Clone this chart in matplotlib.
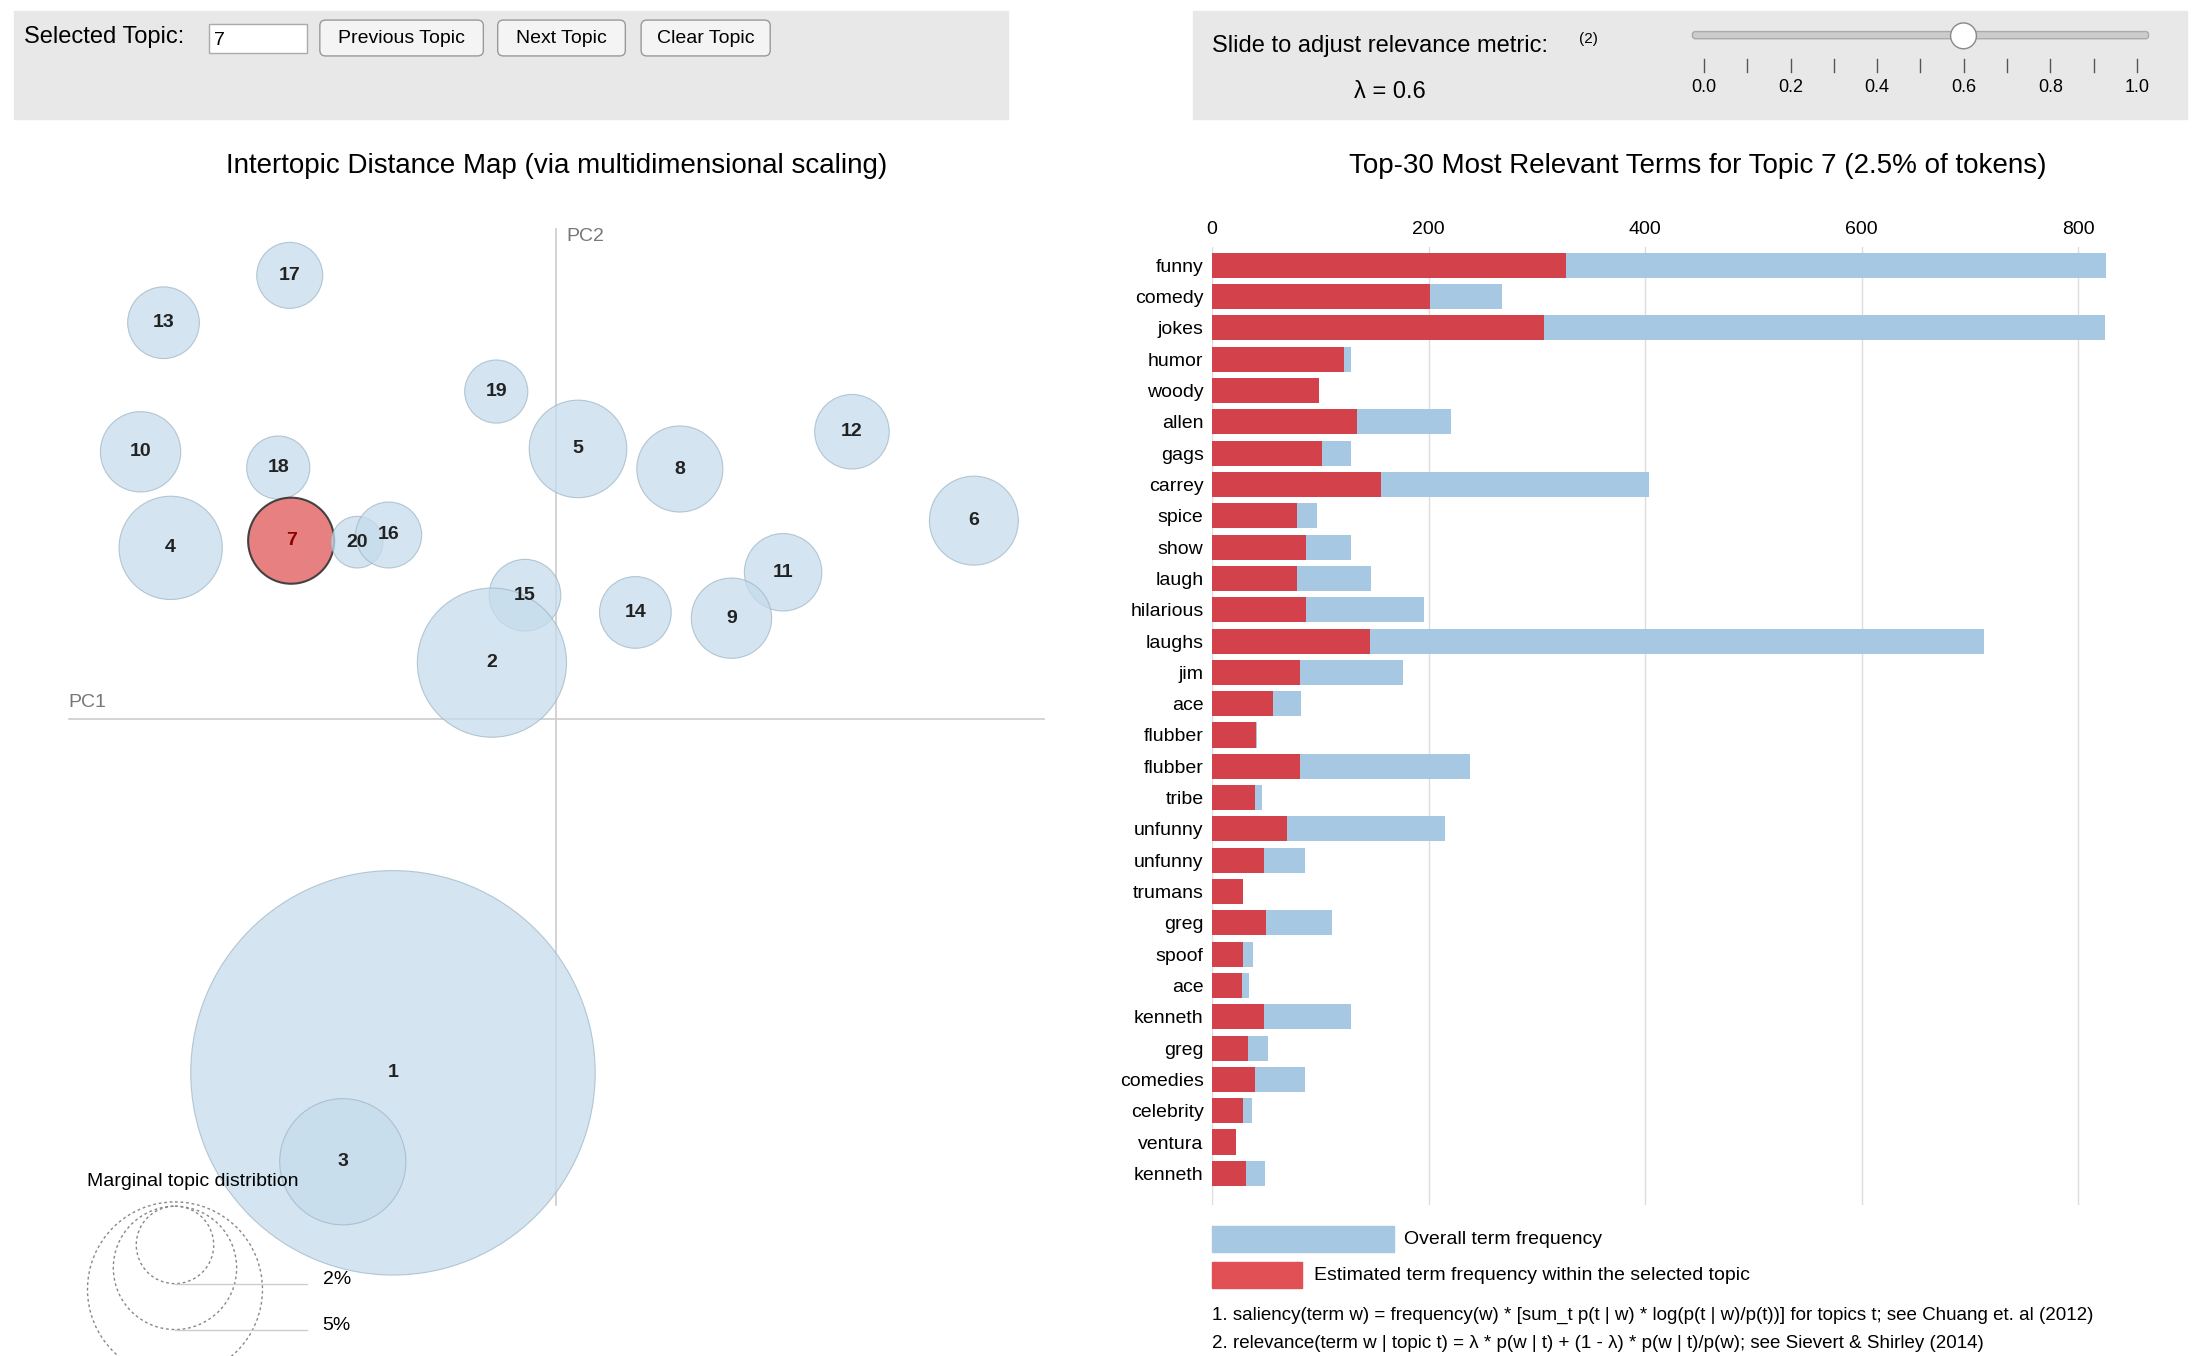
import matplotlib
matplotlib.use("Agg")
import matplotlib.pyplot as plt
from matplotlib.patches import Circle, Rectangle, FancyBboxPatch

plt.rcParams['font.family'] = ['Liberation Sans', 'DejaVu Sans']

# ---- data ----
topic_ids = [17, 13, 19, 10, 18, 5, 8, 12, 6, 4, 7, 20, 16, 15, 14, 11, 9, 2, 1, 3]
topic_x = [202, 114, 346, 98, 194, 403, 474, 594, 679, 119, 203, 249, 271, 366, 443, 546, 510, 343, 274, 239]
topic_y = [192, 225, 273, 315, 326, 313, 327, 301, 363, 382, 377, 378, 373, 415, 427, 399, 431, 462, 748, 810]
topic_r = [23, 25, 22, 28, 22, 34, 30, 26, 31, 36, 30, 18, 23, 25, 25, 27, 28, 52, 141, 44]
selected_topic = 7

terms = ["funny", "comedy", "jokes", "humor", "woody", "allen", "gags", "carrey", "spice", "show",
         "laugh", "hilarious", "laughs", "jim", "ace", "flubber", "flubber", "tribe", "unfunny", "unfunny",
         "trumans", "greg", "spoof", "ace", "kenneth", "greg", "comedies", "celebrity", "ventura", "kenneth"]
overall = [826, 268, 825, 128, 99, 221, 128, 404, 97, 128, 147, 196, 713, 176, 82, 42, 238, 46, 215, 86,
           29, 111, 38, 34, 128, 52, 86, 37, 22, 49]
within = [327, 201, 307, 122, 99, 134, 102, 156, 79, 87, 79, 87, 146, 81, 56, 41, 81, 40, 69, 48,
          29, 50, 29, 28, 48, 33, 40, 29, 22, 31]
xticks = [0, 200, 400, 600, 800]
legend_sizes = ["2%", "5%", "10%"]
legend_r = [27, 43, 61]

BLUE = "#a6c8e2"
CIRC = "#c6dceb"
RED = "#d3414b"
W, H = 2198, 1356
DW = 1532.5
s = W / DW
HD = H / s

fig = plt.figure(figsize=(W / 100, H / 100), dpi=100)
bg = fig.add_axes([0, 0, 1, 1])
bg.set_xlim(0, DW)
bg.set_ylim(HD, 0)
bg.axis('off')

# top panels
for x0 in (10, 832):
    bg.add_patch(Rectangle((x0, 8), 693, 75, color="#e8e8e8", zorder=0))
bg.text(17, 26, "Selected Topic:", fontsize=17, va='center')
bg.add_patch(Rectangle((146, 17), 68, 20, facecolor='white', edgecolor='#aaaaaa'))
bg.text(149, 28, str(selected_topic), fontsize=14, va='center')
for bx, bw, lab in [(223, 114, "Previous Topic"), (347, 89, "Next Topic"), (447, 90, "Clear Topic")]:
    bg.add_patch(FancyBboxPatch((bx, 14), bw, 25, boxstyle="round,pad=0,rounding_size=4",
                                facecolor='#f4f4f4', edgecolor='#999999'))
    bg.text(bx + bw / 2, 27, lab, fontsize=14, ha='center', va='center')
bg.text(845, 32, "Slide to adjust relevance metric:", fontsize=17, va='center')
bg.text(1101, 27, "(2)", fontsize=11, va='center')
bg.text(969, 64, "λ = 0.6", fontsize=17, va='center', ha='center')
bg.add_patch(FancyBboxPatch((1180, 22), 318, 5, boxstyle="round,pad=0,rounding_size=2",
                            facecolor='#cccccc', edgecolor='#aaaaaa'))
for i in range(11):
    tx = 1188 + i * 30.2
    bg.plot([tx, tx], [41, 50], color='#555555', lw=1)
for i, v in enumerate(["0.0", "0.2", "0.4", "0.6", "0.8", "1.0"]):
    bg.text(1188 + i * 60.4, 61, v, fontsize=13, ha='center', va='center')
bg.add_patch(Circle((1369, 25), 9, facecolor='white', edgecolor='#888888', zorder=5))

# left map
bg.text(388, 116, "Intertopic Distance Map (via multidimensional scaling)", fontsize=20, ha='center', va='center')
bg.plot([388, 388], [160, 840], color='#cccccc', lw=1.2, zorder=1)
bg.plot([48, 728], [501, 501], color='#cccccc', lw=1.2, zorder=1)
bg.text(395, 165, "PC2", fontsize=14, color='#777777', va='center')
bg.text(48, 490, "PC1", fontsize=14, color='#777777', va='center')
for tid, x, y, r in zip(topic_ids, topic_x, topic_y, topic_r):
    sel = tid == selected_topic
    bg.add_patch(Circle((x, y), r, facecolor=("#e57373" if sel else CIRC),
                        edgecolor=("#333333" if sel else "#9fb7c8"), alpha=0.75 if not sel else 0.9,
                        lw=1.5 if sel else 0.8, zorder=2))
    bg.text(x, y, str(tid), fontsize=14, fontweight='bold', ha='center', va='center',
            color=("#8b0000" if sel else "#222222"), zorder=6)

bg.text(61, 824, "Marginal topic distribtion", fontsize=14, va='center')
bottoms = [895, 927, 960]
for lab, r, b in zip(legend_sizes, legend_r, bottoms):
    bg.add_patch(Circle((122, b - r), r, fill=False, edgecolor='#888888', ls=(0, (2, 2)), lw=1))
    bg.plot([122, 214], [b, b], color='#cccccc', lw=1)
    bg.text(225, b - 3, lab, fontsize=14, va='center')

# right bar chart
bg.text(1184, 116, "Top-30 Most Relevant Terms for Topic 7 (2.5% of tokens)", fontsize=20, ha='center', va='center')
x0p, x1p = 845, 1480
pxu = (1449 - 845) / 800.0
top_p, bot_p = 172, 840
ax = fig.add_axes([x0p * s / W, 1 - bot_p * s / H, (x1p - x0p) * s / W, (bot_p - top_p) * s / H])
ax.set_xlim(0, (x1p - x0p) / pxu)
row = 21.83
ax.set_ylim((bot_p - 185) / row, (top_p - 185) / row)
ypos = list(range(len(terms)))
ax.barh(ypos, overall, height=0.8, color=BLUE, zorder=2)
ax.barh(ypos, within, height=0.8, color=RED, zorder=3)
ax.set_yticks(ypos)
ax.set_yticklabels(terms, fontsize=14)
ax.set_xticks(xticks)
ax.xaxis.tick_top()
ax.tick_params(axis='x', labelsize=14, length=0, pad=6)
ax.tick_params(axis='y', length=0, pad=6)
ax.grid(axis='x', color='#dddddd', lw=1, zorder=0)
for sp in ax.spines.values():
    sp.set_visible(False)
ax.set_facecolor('none')

# legend & footnotes
bg.add_patch(Rectangle((845, 855), 127, 18, color=BLUE))
bg.text(979, 864, "Overall term frequency", fontsize=14, va='center')
bg.add_patch(Rectangle((845, 880), 63, 18, color="#e05055"))
bg.text(916, 889, "Estimated term frequency within the selected topic", fontsize=14, va='center')
bg.text(845, 917, "1. saliency(term w) = frequency(w) * [sum_t p(t | w) * log(p(t | w)/p(t))] for topics t; see Chuang et. al (2012)",
        fontsize=13.5, va='center')
bg.text(845, 937, "2. relevance(term w | topic t) = λ * p(w | t) + (1 - λ) * p(w | t)/p(w); see Sievert & Shirley (2014)",
        fontsize=13.5, va='center')

fig.savefig("out.png", dpi=100)
